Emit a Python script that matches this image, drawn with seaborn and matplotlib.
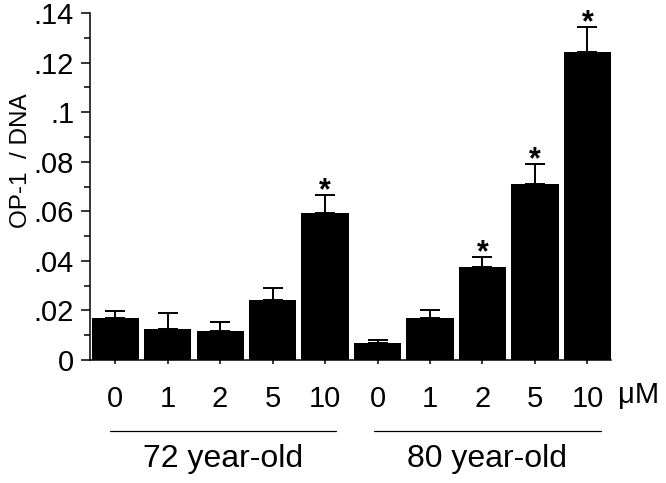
import matplotlib
matplotlib.use("Agg")
import matplotlib.pyplot as plt
import matplotlib.transforms as mtransforms
from matplotlib.ticker import MultipleLocator, FixedLocator, FixedFormatter
import seaborn as sns
import pandas as pd

# ---- data ----
doses = ["0", "1", "2", "5", "10", "0", "1", "2", "5", "10"]
groups = ["72 year-old"] * 5 + ["80 year-old"] * 5
means = [0.0168, 0.0124, 0.0117, 0.0242, 0.0594, 0.0067, 0.0168, 0.0374, 0.0709, 0.1244]
errors = [0.0028, 0.0066, 0.0036, 0.0050, 0.0072, 0.0012, 0.0035, 0.0043, 0.0080, 0.0100]
significant = [False, False, False, False, True, False, False, True, True, True]
ytick_vals = [0, 0.02, 0.04, 0.06, 0.08, 0.10, 0.12, 0.14]
ytick_labels = ["0", ".02", ".04", ".06", ".08", ".1", ".12", ".14"]
group_names = ["72 year-old", "80 year-old"]
unit_label = "\u03bcM"
y_label = "OP-1  / DNA"

sns.set_theme(style="ticks")
plt.rcParams["font.family"] = ["Liberation Sans", "DejaVu Sans"]

df = pd.DataFrame({
    "bar": [f"{g}|{d}" for g, d in zip(groups, doses)],
    "value": means,
})

fig = plt.figure(figsize=(6.66, 4.83), dpi=100)
ax = fig.add_axes([90 / 666, 1 - 360 / 483, 521 / 666, 347 / 483])

sns.barplot(data=df, x="bar", y="value", order=list(df["bar"]), color="black",
            width=0.9, errorbar=None, ax=ax, saturation=1, linewidth=0)
xs = list(range(len(means)))
ax.errorbar(xs, means, yerr=[[0] * len(errors), errors], fmt="none",
            ecolor="black", elinewidth=1.4, capsize=7, capthick=1.4, zorder=3)

for x, m, e, s in zip(xs, means, errors, significant):
    if s:
        ax.annotate("*", xy=(x, m + e), xytext=(0, -3), textcoords="offset points",
                    ha="center", va="baseline", fontsize=22, fontweight="bold",
                    color="black")

ax.set_ylim(0, 0.14)
ax.set_xlim(-0.48, 9.45)
ax.yaxis.set_major_locator(FixedLocator(ytick_vals))
ax.yaxis.set_major_formatter(FixedFormatter(ytick_labels))
ax.yaxis.set_minor_locator(MultipleLocator(0.01))
ax.set_xticks(xs)
ax.set_xticklabels(doses)
ax.tick_params(axis="y", which="major", length=6.5, width=1.1, labelsize=21, pad=5, colors="black")
ax.tick_params(axis="y", which="minor", length=4, width=1.1, colors="black")
ax.tick_params(axis="x", which="major", length=3, width=1.1, labelsize=21, pad=15, colors="black")

for sp in ["top", "right"]:
    ax.spines[sp].set_visible(False)
for sp in ["left", "bottom"]:
    ax.spines[sp].set_linewidth(1.1)
    ax.spines[sp].set_color("black")

ax.set_xlabel("")
ax.set_ylabel(y_label, fontsize=17.5, color="black")
ax.yaxis.set_label_coords(-0.112, 0.573)

trans = mtransforms.blended_transform_factory(ax.transData, ax.transAxes)
ax.text(9.575, -0.1239, unit_label, transform=trans, ha="left", va="baseline",
        fontsize=21, color="black")

line_spans = [(-0.10, 4.21), (4.94, 9.25)]
for (x0, x1), name in zip(line_spans, group_names):
    ax.plot([x0, x1], [-0.2046, -0.2046], transform=trans, color="black",
            linewidth=0.9, clip_on=False)
    ax.text((x0 + x1) / 2, -0.285, name, transform=trans, ha="center",
            va="center", fontsize=23, color="black")

fig.savefig("out.png", dpi=100)
